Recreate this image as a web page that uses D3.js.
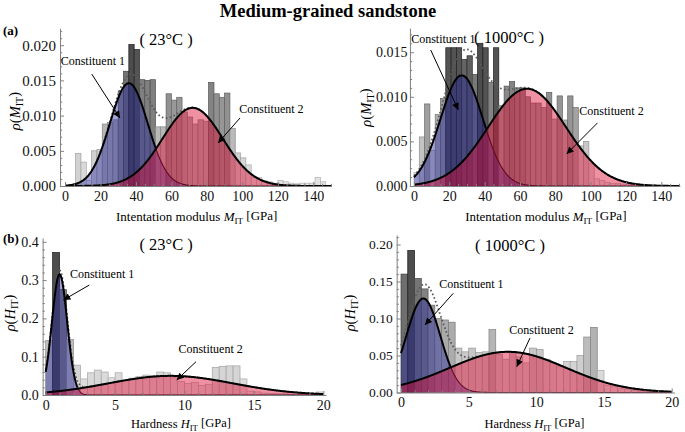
<!DOCTYPE html>
<html><head><meta charset="utf-8">
<script src="https://cdn.jsdelivr.net/npm/d3@7"></script>
<style>
body{margin:0;background:#fff;}
svg{display:block;font-family:"Liberation Serif","Times New Roman",serif;}
</style></head><body>
<svg id="c" width="685" height="432"></svg>
<script>
// ---------------- DATA ----------------
const chartTitle = "Medium-grained sandstone";
const panelLetters = ["(a)", "(b)"];
const temperatureLabels = ["( 23°C )", "( 1000°C )"];
const componentLabels = ["Constituent 1", "Constituent 2"];

const modulusBinWidth = 3;     // GPa
const hardnessBinWidth = 0.5;  // GPa

const histModulus23 = [0, 0, 0.0046, 0.0034, 0.0008, 0.0050, 0.0052, 0.0088, 0.0090, 0.0094,
  0.0135, 0.0163, 0.0201, 0.0194, 0.0151, 0.0150, 0.0151, 0.0084, 0.0084, 0.0131,
  0.0122, 0.0126, 0.0105, 0.0098, 0.0088, 0.0094, 0.0092, 0.0147, 0.0131, 0.0126,
  0.0132, 0.0082, 0.0047, 0.0040, 0.0030, 0.0012, 0.0012, 0.0008, 0.0006, 0.0004,
  0.0008, 0.0006, 0.0004, 0.0003, 0.0004, 0.0004, 0.0004, 0.0012, 0.0006, 0];
const histModulus1000 = [0.0015, 0.0055, 0.0092, 0.0040, 0.0080, 0.0098, 0.0155, 0.0155, 0.0155, 0.0142,
  0.0146, 0.0125, 0.0160, 0.0155, 0.0116, 0.0155, 0.0090, 0.0112, 0.0117, 0.0110,
  0.0110, 0.0100, 0.0093, 0.0093, 0.0088, 0.0105, 0.0075, 0.0101, 0.0074, 0.0101,
  0.0088, 0.0045, 0.0050, 0.0025, 0.0008, 0.0006, 0.0004, 0.0003, 0.0003, 0.0002,
  0.0002, 0.0002, 0, 0, 0, 0, 0, 0, 0, 0];
const histHardness23 = [0.142, 0.372, 0.275, 0.145, 0.078, 0.042, 0.058, 0.065, 0.060, 0.045,
  0.058, 0.038, 0.044, 0.048, 0.052, 0.050, 0.060, 0.058, 0.045, 0.035,
  0.030, 0.033, 0.025, 0.028, 0.072, 0.075, 0.076, 0.076, 0.042, 0.010,
  0.008, 0.005, 0.004, 0.003, 0.003, 0.002, 0.002, 0.002, 0.003, 0.008];
const histHardness1000 = [0.160, 0.192, 0.154, 0.140, 0.118, 0.100, 0.098, 0.095, 0.060, 0.055,
  0.060, 0.054, 0.055, 0.085, 0.052, 0.045, 0.055, 0.048, 0.040, 0.060,
  0.058, 0.045, 0.040, 0.035, 0.042, 0.042, 0.050, 0.075, 0.088, 0.030,
  0.010, 0.008, 0.005, 0.004, 0.003, 0.002, 0.002, 0.001, 0.001, 0.001];

// fitted Gaussian constituents: [mean, standard deviation, peak density]
const fitModulus23   = [[36, 10.7, 0.0146], [72, 17, 0.0111]];
const fitModulus1000 = [[27, 12, 0.0124], [64, 22, 0.0109]];
const fitHardness23  = [[1.0, 0.55, 0.315], [9.0, 4.5, 0.050]];
const fitHardness1000= [[1.65, 1.25, 0.127], [7.9, 4.3, 0.055]];

const modulusTicks = [0, 20, 40, 60, 80, 100, 120, 140];
const hardnessTicks = [0, 5, 10, 15, 20];
const densityTicksModulus23 = [0, 0.005, 0.010, 0.015, 0.020];
const densityTicksModulus1000 = [0, 0.005, 0.010, 0.015];
const densityTicksHardness23 = [0, 0.1, 0.2, 0.3, 0.4];
const densityTicksHardness1000 = [0, 0.05, 0.10, 0.15, 0.20];

// ---------------- LAYOUT ----------------
const panels = [
  { hist: histModulus23, bw: modulusBinWidth, fit: fitModulus23, temp: temperatureLabels[0],
    xTicks: modulusTicks, xMinor: 5, yTicks: densityTicksModulus23, yMinor: 0.001, yFmt: ".3f",
    xDom: [0, 150], xRange: [65, 331], yDom: [0, 0.020], yRange: [186, 45.2],
    yAxisAt: -2.8, xEnd: 150.3, yTop: 0.0224, yTickFont: 15, xTickFont: 14, yPad: 4,
    xLabel: "M", xLabelPre: "Intentation modulus ", xTitleX: 196.7, xTitleY: 221, xTitleFont: 13,
    yLabelVar: "M", yLabelX: 20, yLabelY: 111,
    tempPos: [57, 0.0200], c1Pos: [15.7, 0.0172], c1Arrow: [[15.1, 0.0159], [31.0, 0.00966]],
    c2Pos: [116.4, 0.01033], c2Arrow: [[98.7, 0.00966], [86.3, 0.00611]] },
  { hist: histModulus1000, bw: modulusBinWidth, fit: fitModulus1000, temp: temperatureLabels[1],
    xTicks: modulusTicks, xMinor: 5, yTicks: densityTicksModulus1000, yMinor: 0.001, yFmt: ".3f",
    xDom: [0, 150], xRange: [414, 679], yDom: [0, 0.015], yRange: [186, 52.2],
    yAxisAt: -2.3, xEnd: 150.5, yTop: 0.0177, yTickFont: 14, xTickFont: 14, yPad: 2.5,
    xLabel: "M", xLabelPre: "Intentation modulus ", xTitleX: 545.8, xTitleY: 221, xTitleFont: 13,
    yLabelVar: "M", yLabelX: 371, yLabelY: 107.5,
    tempPos: [53.8, 0.01603], c1Pos: [16.6, 0.01607], c1Arrow: [[9.45, 0.01525], [25.1, 0.00852]],
    c2Pos: [111.8, 0.00796], c2Arrow: [[103.8, 0.00706], [86.4, 0.00359]] },
  { hist: histHardness23, bw: hardnessBinWidth, fit: fitHardness23, temp: temperatureLabels[0],
    xTicks: hardnessTicks, xMinor: 1, yTicks: densityTicksHardness23, yMinor: 0.02, yFmt: ".1f",
    xDom: [0, 20], xRange: [45.7, 323.3], yDom: [0, 0.4], yRange: [395, 241.8],
    yAxisAt: -0.22, xEnd: 20.2, yTop: 0.41, yTickFont: 14, xTickFont: 14, yPad: 4,
    xLabel: "H", xLabelPre: "Hardness ", xTitleX: 181, xTitleY: 428, xTitleFont: 12.5,
    yLabelVar: "H", yLabelX: 15, yLabelY: 313,
    tempPos: [8.68, 0.3786], c1Pos: [4.06, 0.3055], c1Arrow: [[3.14, 0.287], [1.27, 0.248]],
    c2Pos: [11.88, 0.1097], c2Arrow: [[10.83, 0.0869], [9.44, 0.0392]] },
  { hist: histHardness1000, bw: hardnessBinWidth, fit: fitHardness1000, temp: temperatureLabels[1],
    xTicks: hardnessTicks, xMinor: 1, yTicks: densityTicksHardness1000, yMinor: 0.01, yFmt: ".2f",
    xDom: [0, 20], xRange: [401, 671.7], yDom: [0, 0.2], yRange: [392.5, 244.5],
    yAxisAt: -0.32, xEnd: 20.2, yTop: 0.2128, yTickFont: 13.5, xTickFont: 14, yPad: 4,
    xLabel: "H", xLabelPre: "Hardness ", xTitleX: 534.5, xTitleY: 428, xTitleFont: 12.5,
    yLabelVar: "H", yLabelX: 355, yLabelY: 313,
    tempPos: [8.05, 0.1916], c1Pos: [5.2, 0.1412], c1Arrow: [[3.86, 0.134], [1.77, 0.0912]],
    c2Pos: [10.38, 0.079], c2Arrow: [[9.53, 0.0736], [8.55, 0.0349]] }
];

const svg = d3.select("#c");
const defs = svg.append("defs");
defs.append("marker").attr("id", "arr").attr("viewBox", "0 0 10 10")
  .attr("refX", 10).attr("refY", 5).attr("markerWidth", 9).attr("markerHeight", 7)
  .attr("markerUnits", "userSpaceOnUse").attr("orient", "auto")
  .append("path").attr("d", "M0,0 L10,5 L0,10 z").attr("fill", "#000");

svg.append("text").attr("x", 328).attr("y", 17).attr("text-anchor", "middle")
  .attr("font-size", 18.5).attr("font-weight", "bold").text(chartTitle);
svg.append("text").attr("x", 3).attr("y", 35).attr("font-size", 13).attr("font-weight", "bold").text(panelLetters[0]);
svg.append("text").attr("x", 3).attr("y", 243).attr("font-size", 13).attr("font-weight", "bold").text(panelLetters[1]);

function richLabel(sel, pre, v) {
  if (pre) sel.append("tspan").text(pre);
  sel.append("tspan").attr("font-style", "italic").text(v);
  sel.append("tspan").attr("font-size", "70%").attr("dy", "0.3em").text("IT");
}

const comp = (c, t) => c[2] * Math.exp(-((t - c[0]) ** 2) / (2 * c[1] * c[1]));

panels.forEach(p => {
  const g = svg.append("g");
  const x = d3.scaleLinear().domain(p.xDom).range(p.xRange);
  const y = d3.scaleLinear().domain(p.yDom).range(p.yRange);
  const maxH = d3.max(p.hist);
  const barData = p.hist.map((v, i) => ({ v, i })).filter(d => d.v > 0);
  const grey = (v, off) => { const l = Math.max(0, 0.9 - 0.6 * Math.pow(v / maxH, 1.4) - off) * 255; return d3.rgb(l, l, l); };

  // histogram bars
  g.append("g").selectAll("rect").data(barData).join("rect")
    .attr("x", d => x(d.i * p.bw)).attr("width", d => x((d.i + 1) * p.bw) - x(d.i * p.bw))
    .attr("y", d => y(d.v)).attr("height", d => y(0) - y(d.v))
    .attr("fill", d => grey(d.v, 0))
    .attr("stroke", d => grey(d.v, 0.2))
    .attr("stroke-width", 0.7);

  const n = 600;
  const pts = d3.range(n + 1).map(k => {
    const t = p.xDom[0] + (p.xDom[1] - p.xDom[0]) * k / n;
    return { t, a: comp(p.fit[0], t), b: comp(p.fit[1], t) };
  });

  const area1 = d3.area().x(d => x(d.t)).y0(y(0)).y1(d => y(d.a));
  const area2 = d3.area().x(d => x(d.t)).y0(y(0)).y1(d => y(d.b));
  g.append("path").datum(pts).attr("d", area1).attr("fill", "rgb(30,30,155)").attr("fill-opacity", 0.4);
  g.append("path").datum(pts).attr("d", area2).attr("fill", "rgb(220,10,50)").attr("fill-opacity", 0.45);

  // mixture sum (dotted)
  g.append("path").datum(pts)
    .attr("d", d3.line().x(d => x(d.t)).y(d => y(d.a + d.b)))
    .attr("fill", "none").attr("stroke", "#5a5a5a").attr("stroke-width", 1.8)
    .attr("stroke-dasharray", "1.6,2.4");

  // constituent 1 hidden part (under constituent 2)
  g.append("path").datum(pts)
    .attr("d", d3.line().defined(d => d.a <= d.b * 1.02).x(d => x(d.t)).y(d => y(d.a)))
    .attr("fill", "none").attr("stroke", "#640a22").attr("stroke-width", 1.1);
  g.append("path").datum(pts)
    .attr("d", d3.line().defined(d => d.a >= d.b).x(d => x(d.t)).y(d => y(d.a)))
    .attr("fill", "none").attr("stroke", "#000").attr("stroke-width", 2);
  g.append("path").datum(pts)
    .attr("d", d3.line().x(d => x(d.t)).y(d => y(d.b)))
    .attr("fill", "none").attr("stroke", "#000").attr("stroke-width", 2);

  // axes
  const xa = x.copy().domain([p.yAxisAt, p.xEnd]).range([x(p.yAxisAt), x(p.xEnd)]);
  const ya = y.copy().domain([0, p.yTop]).range([y(0), y(p.yTop)]);
  const xMinorVals = d3.range(0, p.xDom[1] + 1e-9, p.xMinor).filter(v => !p.xTicks.some(t => Math.abs(t - v) < 1e-9));
  const yMinorVals = d3.range(0, p.yTop, p.yMinor).filter(v => !p.yTicks.some(t => Math.abs(t - v) < 1e-9));

  const gx = g.append("g").attr("transform", `translate(0,${y(0)})`);
  gx.call(d3.axisBottom(xa).tickValues(p.xTicks).tickSize(-4).tickSizeOuter(0).tickPadding(5).tickFormat(d3.format("d")));
  gx.append("g").call(d3.axisBottom(xa).tickValues(xMinorVals).tickSize(-2.2).tickSizeOuter(0).tickFormat(""))
    .select(".domain").remove();
  const gy = g.append("g").attr("transform", `translate(${x(p.yAxisAt)},0)`);
  gy.call(d3.axisLeft(ya).tickValues(p.yTicks).tickSize(-4).tickSizeOuter(0).tickPadding(p.yPad).tickFormat(d3.format(p.yFmt)));
  gy.append("g").call(d3.axisLeft(ya).tickValues(yMinorVals).tickSize(-2.2).tickSizeOuter(0).tickFormat(""))
    .select(".domain").remove();
  [gx, gy].forEach(a => {
    a.selectAll(".domain").attr("stroke", "#808080");
    a.selectAll(".tick line").attr("stroke", "#808080");
    a.selectAll("text").attr("fill", "#111").attr("font-family", "Liberation Serif");
  });
  gx.selectAll("text").attr("font-size", p.xTickFont);
  gy.selectAll("text").attr("font-size", p.yTickFont);

  // axis titles
  const xt = g.append("text").attr("x", p.xTitleX).attr("y", p.xTitleY).attr("text-anchor", "middle")
    .attr("font-size", p.xTitleFont);
  richLabel(xt, p.xLabelPre, p.xLabel);
  xt.append("tspan").attr("dy", "-0.3em").text(" [GPa]");

  const yt = g.append("text").attr("transform", `translate(${p.yLabelX},${p.yLabelY}) rotate(-90)`)
    .attr("text-anchor", "middle").attr("font-size", 14.5);
  yt.append("tspan").attr("font-style", "italic").text("ρ");
  yt.append("tspan").text("(");
  richLabel(yt, null, p.yLabelVar);
  yt.append("tspan").attr("dy", "-0.3em").text(")");

  // annotations
  g.append("text").attr("x", x(p.tempPos[0])).attr("y", y(p.tempPos[1])).attr("text-anchor", "middle")
    .attr("font-size", 16.5).text(p.temp);
  g.append("text").attr("x", x(p.c1Pos[0])).attr("y", y(p.c1Pos[1])).attr("text-anchor", "middle")
    .attr("font-size", 12).text(componentLabels[0]);
  g.append("text").attr("x", x(p.c2Pos[0])).attr("y", y(p.c2Pos[1])).attr("text-anchor", "middle")
    .attr("font-size", 12).text(componentLabels[1]);
  [p.c1Arrow, p.c2Arrow].forEach(a => {
    g.append("line").attr("x1", x(a[0][0])).attr("y1", y(a[0][1]))
      .attr("x2", x(a[1][0])).attr("y2", y(a[1][1]))
      .attr("stroke", "#000").attr("stroke-width", 1).attr("marker-end", "url(#arr)");
  });
});
</script>
</body></html>
